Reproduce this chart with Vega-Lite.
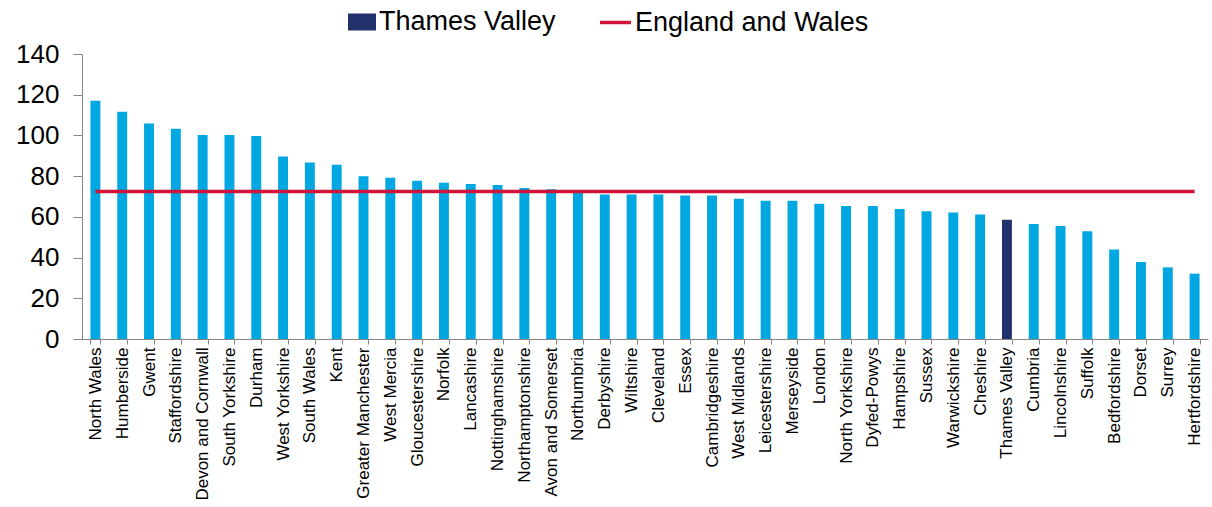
{
  "$schema": "https://vega.github.io/schema/vega-lite/v6.json",
  "width": 1126,
  "height": 285,
  "autosize": {"type": "none"},
  "padding": {"left": 82, "top": 54, "right": 4, "bottom": 168},
  "background": "white",
  "config": {"view": {"stroke": null}, "font": "Liberation Sans"},
  "data": {"values": [
    {"county": "North Wales", "rate": 117.0, "group": "Other", "ew": 72.4},
    {"county": "Humberside", "rate": 111.6, "group": "Other", "ew": 72.4},
    {"county": "Gwent", "rate": 105.8, "group": "Other", "ew": 72.4},
    {"county": "Staffordshire", "rate": 103.3, "group": "Other", "ew": 72.4},
    {"county": "Devon and Cornwall", "rate": 100.2, "group": "Other", "ew": 72.4},
    {"county": "South Yorkshire", "rate": 100.2, "group": "Other", "ew": 72.4},
    {"county": "Durham", "rate": 99.7, "group": "Other", "ew": 72.4},
    {"county": "West Yorkshire", "rate": 89.7, "group": "Other", "ew": 72.4},
    {"county": "South Wales", "rate": 86.7, "group": "Other", "ew": 72.4},
    {"county": "Kent", "rate": 85.6, "group": "Other", "ew": 72.4},
    {"county": "Greater Manchester", "rate": 79.9, "group": "Other", "ew": 72.4},
    {"county": "West Mercia", "rate": 79.2, "group": "Other", "ew": 72.4},
    {"county": "Gloucestershire", "rate": 77.7, "group": "Other", "ew": 72.4},
    {"county": "Norfolk", "rate": 76.7, "group": "Other", "ew": 72.4},
    {"county": "Lancashire", "rate": 76.2, "group": "Other", "ew": 72.4},
    {"county": "Nottinghamshire", "rate": 75.7, "group": "Other", "ew": 72.4},
    {"county": "Northamptonshire", "rate": 74.2, "group": "Other", "ew": 72.4},
    {"county": "Avon and Somerset", "rate": 73.6, "group": "Other", "ew": 72.4},
    {"county": "Northumbria", "rate": 72.0, "group": "Other", "ew": 72.4},
    {"county": "Derbyshire", "rate": 71.0, "group": "Other", "ew": 72.4},
    {"county": "Wiltshire", "rate": 71.0, "group": "Other", "ew": 72.4},
    {"county": "Cleveland", "rate": 71.0, "group": "Other", "ew": 72.4},
    {"county": "Essex", "rate": 70.5, "group": "Other", "ew": 72.4},
    {"county": "Cambridgeshire", "rate": 70.5, "group": "Other", "ew": 72.4},
    {"county": "West Midlands", "rate": 68.9, "group": "Other", "ew": 72.4},
    {"county": "Leicestershire", "rate": 67.9, "group": "Other", "ew": 72.4},
    {"county": "Merseyside", "rate": 67.9, "group": "Other", "ew": 72.4},
    {"county": "London", "rate": 66.4, "group": "Other", "ew": 72.4},
    {"county": "North Yorkshire", "rate": 65.3, "group": "Other", "ew": 72.4},
    {"county": "Dyfed-Powys", "rate": 65.3, "group": "Other", "ew": 72.4},
    {"county": "Hampshire", "rate": 63.8, "group": "Other", "ew": 72.4},
    {"county": "Sussex", "rate": 62.7, "group": "Other", "ew": 72.4},
    {"county": "Warwickshire", "rate": 62.2, "group": "Other", "ew": 72.4},
    {"county": "Cheshire", "rate": 61.2, "group": "Other", "ew": 72.4},
    {"county": "Thames Valley", "rate": 58.6, "group": "Thames Valley", "ew": 72.4},
    {"county": "Cumbria", "rate": 56.5, "group": "Other", "ew": 72.4},
    {"county": "Lincolnshire", "rate": 55.5, "group": "Other", "ew": 72.4},
    {"county": "Suffolk", "rate": 52.9, "group": "Other", "ew": 72.4},
    {"county": "Bedfordshire", "rate": 44.0, "group": "Other", "ew": 72.4},
    {"county": "Dorset", "rate": 37.8, "group": "Other", "ew": 72.4},
    {"county": "Surrey", "rate": 35.2, "group": "Other", "ew": 72.4},
    {"county": "Hertfordshire", "rate": 32.1, "group": "Other", "ew": 72.4}
  ]},
  "layer": [
    {
      "mark": {"type": "bar"},
      "encoding": {
        "x": {
          "field": "county", "type": "nominal", "sort": null, "title": null,
          "scale": {"paddingInner": 0.63, "paddingOuter": 0.315},
          "axis": {
            "labelAngle": -90, "labelFontSize": 17, "labelColor": "black", "labelPadding": 3,
            "labelLimit": 0, "tickSize": 5, "tickBand": "extent", "tickColor": "#868686",
            "domainColor": "#868686", "grid": false
          }
        },
        "y": {
          "field": "rate", "type": "quantitative", "title": null,
          "scale": {"domain": [0, 140], "nice": false},
          "axis": {
            "values": [0, 20, 40, 60, 80, 100, 120, 140], "labelFontSize": 26, "labelColor": "black",
            "labelPadding": 14, "tickSize": 9, "tickColor": "#868686", "domainColor": "#868686", "grid": false
          }
        },
        "color": {
          "field": "group", "type": "nominal",
          "scale": {"domain": ["Thames Valley", "Other"], "range": ["#22306B", "#00A7E1"]},
          "legend": {
            "values": ["Thames Valley"], "title": null, "orient": "none", "legendX": 266, "legendY": -46,
            "symbolType": "M-1,-0.607H1V0.607H-1Z", "symbolSize": 784, "symbolStrokeWidth": 0,
            "symbolOpacity": 1, "labelFontSize": 27, "labelColor": "black", "labelOffset": 3,
            "labelLimit": 0, "padding": 0
          }
        }
      }
    },
    {
      "mark": {"type": "line", "strokeWidth": 3.5},
      "encoding": {
        "x": {"field": "county", "type": "nominal", "sort": null},
        "y": {"field": "ew", "type": "quantitative"},
        "stroke": {
          "datum": "England and Wales", "type": "nominal",
          "scale": {"range": ["#D2143A"]},
          "legend": {
            "title": null, "orient": "none", "legendX": 516, "legendY": -49,
            "symbolType": "stroke", "symbolSize": 961, "symbolStrokeWidth": 3.5,
            "labelFontSize": 27, "labelColor": "black", "labelOffset": 2, "labelLimit": 0, "padding": 0
          }
        }
      }
    }
  ]
}
